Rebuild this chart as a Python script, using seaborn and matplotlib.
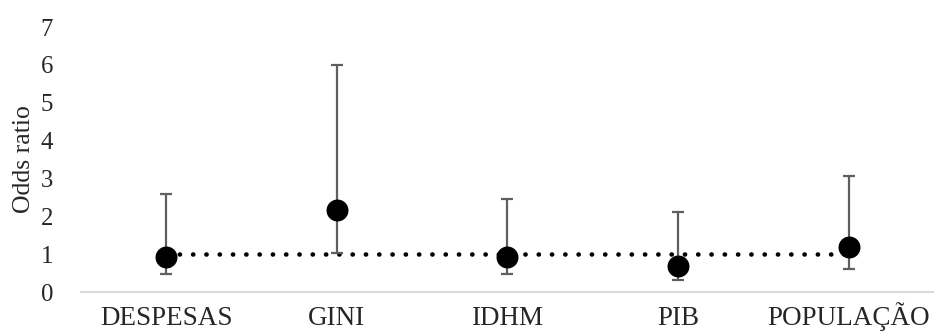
import numpy as np
import pandas as pd
import matplotlib
matplotlib.use("Agg")
import matplotlib.pyplot as plt
import seaborn as sns

# Dados / Data
categorias = ["DESPESAS", "GINI", "IDHM", "PIB", "POPULAÇÃO"]
odds = [0.92, 2.16, 0.93, 0.69, 1.18]
ic_inf = [0.47, 1.02, 0.47, 0.32, 0.61]
ic_sup = [2.59, 6.00, 2.45, 2.11, 3.06]
referencia = [1, 1, 1, 1, 1]

df = pd.DataFrame({"var": categorias, "odds": odds,
                   "inf": ic_inf, "sup": ic_sup, "ref": referencia})
df["pos"] = np.arange(len(df))

sns.set_theme(style="white")
plt.rcParams["font.family"] = ["Liberation Serif", "DejaVu Serif"]

fig = plt.figure(figsize=(9.34, 3.34), dpi=100)
ax = fig.add_axes([0.0867, 0.1257, 0.9133, 0.7933])

# linha de referencia pontilhada / dotted reference line
sns.lineplot(data=df, x="pos", y="ref", ax=ax, color="black", lw=3.3,
             linestyle=(0, (0.05, 2.85)), dash_capstyle="round", zorder=2)

# intervalos de confianca / confidence intervals
ax.errorbar(df["pos"], df["odds"],
            yerr=[df["odds"] - df["inf"], df["sup"] - df["odds"]],
            fmt="none", ecolor="#5f5f5f", elinewidth=1.6, capsize=4,
            capthick=1.6, zorder=3)

sns.scatterplot(data=df, x="pos", y="odds", ax=ax, color="black", s=250,
                edgecolor="black", linewidth=0, zorder=4)

ax.set_xlim(-0.5, 4.5)
ax.set_ylim(0, 7)
ax.set_yticks(range(8))
ax.set_xticks(df["pos"])
ax.set_xticklabels(categorias, fontsize=19.5, va="baseline")
ax.tick_params(axis="y", labelsize=17.8, length=0, pad=20)
ax.tick_params(axis="x", length=0, pad=24)
ax.set_xlabel("")
ax.set_ylabel("Odds ratio", fontsize=18.5, labelpad=4)

for s in ["top", "right", "left"]:
    ax.spines[s].set_visible(False)
ax.spines["bottom"].set_color("#d9d9d9")
ax.spines["bottom"].set_linewidth(1.5)

fig.savefig("out.png", dpi=100, facecolor="white")
